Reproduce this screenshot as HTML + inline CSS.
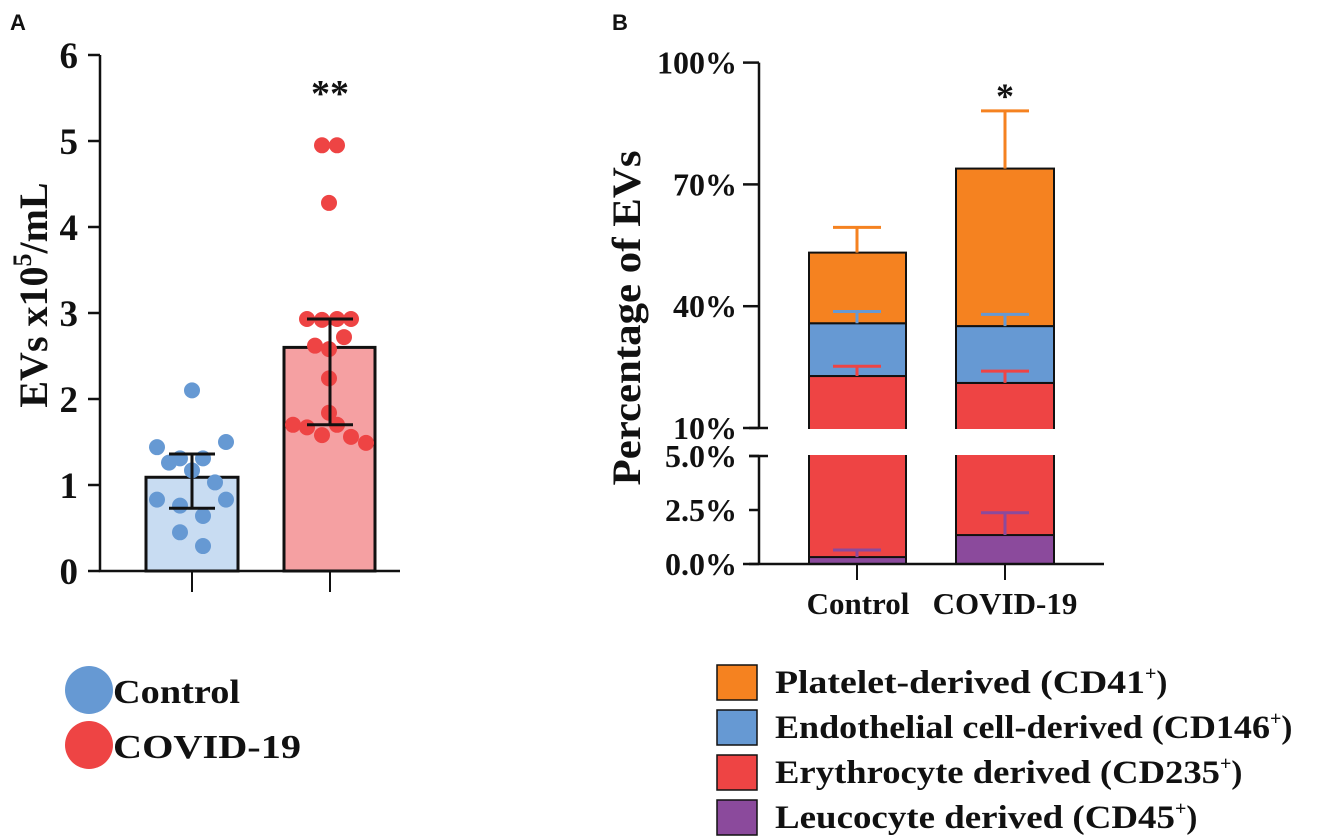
<!DOCTYPE html>
<html><head><meta charset="utf-8"><style>
html,body{margin:0;padding:0;background:#fff;}
svg{display:block;}
text{font-family:"Liberation Serif",serif;font-weight:bold;fill:#111;}
</style></head><body>
<svg id="fig" width="1325" height="840" xmlns="http://www.w3.org/2000/svg">
<text x="10" y="30" style="font-family:'Liberation Sans',sans-serif;font-size:22px">A</text>
<text x="612" y="30" style="font-family:'Liberation Sans',sans-serif;font-size:22px">B</text>
<g id="pa"></g>
<g id="pb"></g>
<g>
<circle cx="89" cy="690" r="24" fill="#6699d3"/>
<text x="113" y="703" font-size="34" textLength="127" lengthAdjust="spacingAndGlyphs">Control</text>
<circle cx="89" cy="745" r="24" fill="#ee4444"/>
<text x="113" y="758" font-size="34" textLength="188" lengthAdjust="spacingAndGlyphs">COVID-19</text>
</g>
<g>
<rect x="717" y="665" width="40" height="35" fill="#f58220" stroke="#111" stroke-width="1.5"/>
<text x="775" y="693" font-size="33"><tspan textLength="370" lengthAdjust="spacingAndGlyphs">Platelet-derived (CD41</tspan><tspan dy="-13" font-size="20">+</tspan><tspan dy="13">)</tspan></text>
<rect x="717" y="710" width="40" height="35" fill="#6699d3" stroke="#111" stroke-width="1.5"/>
<text x="775" y="738" font-size="33"><tspan textLength="495" lengthAdjust="spacingAndGlyphs">Endothelial cell-derived (CD146</tspan><tspan dy="-13" font-size="20">+</tspan><tspan dy="13">)</tspan></text>
<rect x="717" y="755" width="40" height="35" fill="#ee4444" stroke="#111" stroke-width="1.5"/>
<text x="775" y="783" font-size="33"><tspan textLength="445" lengthAdjust="spacingAndGlyphs">Erythrocyte derived (CD235</tspan><tspan dy="-13" font-size="20">+</tspan><tspan dy="13">)</tspan></text>
<rect x="717" y="800" width="40" height="35" fill="#8b4a9c" stroke="#111" stroke-width="1.5"/>
<text x="775" y="828" font-size="33"><tspan textLength="400" lengthAdjust="spacingAndGlyphs">Leucocyte derived (CD45</tspan><tspan dy="-13" font-size="20">+</tspan><tspan dy="13">)</tspan></text>
</g>
</svg>
<script>
// Panel A data
const aGroups = ['Control','COVID-19'];
const aMeans = [1.09, 2.60];
const aErrLow = [0.73, 1.70];
const aErrHigh = [1.36, 2.93];
const controlPts = [2.10,1.44,1.50,1.31,1.31,1.26,1.17,1.03,0.83,0.83,0.76,0.64,0.45,0.29];
const covidPts = [4.95,4.95,4.28,2.93,2.92,2.93,2.93,2.72,2.62,2.58,2.24,1.84,1.70,1.67,1.70,1.58,1.56,1.49];
const aTicks = [0,1,2,3,4,5,6];
// Panel B data
const bGroups = ['Control','COVID-19'];
const leuco = [0.32, 1.34];
const leucoErr = [0.65, 2.37];
const eryTop = [22.8, 21.1];
const eryErr = [25.2, 24.0];
const endoTop = [35.8, 35.1];
const endoErr = [38.7, 38.0];
const platTop = [53.2, 73.9];
const platErr = [59.4, 88.1];
const bUpperTicks = ['100%','70%','40%','10%'];
const bUpperVals = [100,70,40,10];
const bLowerTicks = ['5.0%','2.5%','0.0%'];
const bLowerVals = [5,2.5,0];

const NS='http://www.w3.org/2000/svg';
function mk(parent,tag,attrs,txt){const e=document.createElementNS(NS,tag);for(const k in attrs)e.setAttribute(k,attrs[k]);if(txt!==undefined)e.textContent=txt;parent.appendChild(e);return e;}

// Panel A
const pa=document.getElementById('pa');
const ya=v=>571-v*86;
const aCx=[192,330];
const jitC=[0,-35,34,-12,11,-23,0,23,-35,34,-12,11,-12,11];
const jitV=[-8,7,-1,-23,-8,7,21,14,-15,-1,-1,-1,-37,-23,7,-8,21,36];
let e;
e=mk(pa,'rect',{x:146,y:ya(aMeans[0]),width:92,height:ya(0)-ya(aMeans[0]),fill:'#c8dcf2',stroke:'#111','stroke-width':3});


e=mk(pa,'rect',{x:284,y:ya(aMeans[1]),width:91,height:ya(0)-ya(aMeans[1]),fill:'#f5a0a2',stroke:'#111','stroke-width':3});


controlPts.forEach((v,i)=>{e=mk(pa,'circle',{cx:aCx[0]+(jitC[i]||0),cy:ya(v),r:8,fill:'#6699d3'});

});
covidPts.forEach((v,i)=>{e=mk(pa,'circle',{cx:aCx[1]+(jitV[i]||0),cy:ya(v),r:8,fill:'#ee4444'});

});
aGroups.forEach((g,i)=>{const x=aCx[i];
e=mk(pa,'path',{d:`M${x},${ya(aErrLow[i])}V${ya(aErrHigh[i])}M${x-23},${ya(aErrLow[i])}H${x+23}M${x-23},${ya(aErrHigh[i])}H${x+23}`,stroke:'#111','stroke-width':3,fill:'none'});


e=mk(pa,'line',{x1:x,x2:x,y1:571,y2:592,stroke:'#111','stroke-width':2});

});
e=mk(pa,'path',{d:`M100,${ya(6)}V571H400`,stroke:'#111','stroke-width':2.5,fill:'none'});


aTicks.forEach(t=>{e=mk(pa,'line',{x1:88,x2:100,y1:ya(t),y2:ya(t),stroke:'#111','stroke-width':2.5});


e=mk(pa,'text',{x:78,y:ya(t)+13,'font-size':37,'text-anchor':'end'},String(t));

});
e=mk(pa,'text',{x:330,y:106,'font-size':38,'text-anchor':'middle'},'**');


e=mk(pa,'text',{transform:'translate(47,295) rotate(-90)','font-size':40,'text-anchor':'middle'});


e.innerHTML='EVs x10<tspan dy="-16" font-size="26">5</tspan><tspan dy="16">/mL</tspan>';

// Panel B
const pb=document.getElementById('pb');
const yu=v=>428-(v-10)*4.06;
const yl=v=>564-v*21.6;
const bX=[809,956],bW=[97,98],bC=[857,1005];
function rect(x,y1,y2,w,fill,name){e=mk(pb,'rect',{x:x,y:Math.min(y1,y2),width:w,height:Math.abs(y2-y1),fill:fill,stroke:'#111','stroke-width':2});

}
function err(x,y1,y2,col,name){e=mk(pb,'path',{d:`M${x},${y1}V${y2}M${x-24},${y2}H${x+24}`,stroke:col,'stroke-width':3,fill:'none'});

}
bGroups.forEach((g,i)=>{const x=bX[i],w=bW[i],c=bC[i];
rect(x,yl(0),yl(5)-4,w,'#ee4444','bar-erythrocyte-lower-'+i);
rect(x,yl(0),yl(leuco[i]),w,'#8b4a9c','bar-leucocyte-'+i);
err(c,yl(leuco[i]),yl(leucoErr[i]),'#8b4a9c','error-leucocyte-'+i);
rect(x,yu(10)+4,yu(eryTop[i]),w,'#ee4444','bar-erythrocyte-'+i);
rect(x,yu(eryTop[i]),yu(endoTop[i]),w,'#6699d3','bar-endothelial-'+i);
rect(x,yu(endoTop[i]),yu(platTop[i]),w,'#f58220','bar-platelet-'+i);
err(c,yu(eryTop[i]),yu(eryErr[i]),'#ee4444','error-erythrocyte-'+i);
err(c,yu(endoTop[i]),yu(endoErr[i]),'#6699d3','error-endothelial-'+i);
err(c,yu(platTop[i]),yu(platErr[i]),'#f58220','error-platelet-'+i);
e=mk(pb,'line',{x1:c,x2:c,y1:564,y2:580,stroke:'#111','stroke-width':2});

});
e=mk(pb,'rect',{x:790,y:yu(10)+1,width:320,height:yl(5)-yu(10)-2,fill:'#fff'});


e=mk(pb,'path',{d:`M759,${yu(100)}V${yu(10)}M749,${yu(10)}H768M749,${yl(5)}H768M759,${yl(5)}V564M743,564H1104`,stroke:'#111','stroke-width':2.5,fill:'none'});


bUpperVals.forEach((v,i)=>{e=mk(pb,'line',{x1:743,x2:759,y1:yu(v),y2:yu(v),stroke:'#111','stroke-width':2.5});


e=mk(pb,'text',{x:737,y:yu(v)+11,'font-size':32,'text-anchor':'end'},bUpperTicks[i]);

});
bLowerVals.forEach((v,i)=>{e=mk(pb,'line',{x1:749,x2:759,y1:yl(v),y2:yl(v),stroke:'#111','stroke-width':2.5});


e=mk(pb,'text',{x:737,y:yl(v)+11,'font-size':32,'text-anchor':'end'},bLowerTicks[i]);

});
e=mk(pb,'text',{x:858,y:614,'font-size':31,'text-anchor':'middle'},bGroups[0]);


e=mk(pb,'text',{x:1005,y:614,'font-size':31,'text-anchor':'middle'},bGroups[1]);


e=mk(pb,'text',{x:1005,y:108,'font-size':36,'text-anchor':'middle'},'*');


e=mk(pb,'text',{transform:'translate(640,318) rotate(-90)','font-size':40,'text-anchor':'middle',textLength:335,lengthAdjust:'spacingAndGlyphs'},'Percentage of EVs');


</script>
</body></html>
